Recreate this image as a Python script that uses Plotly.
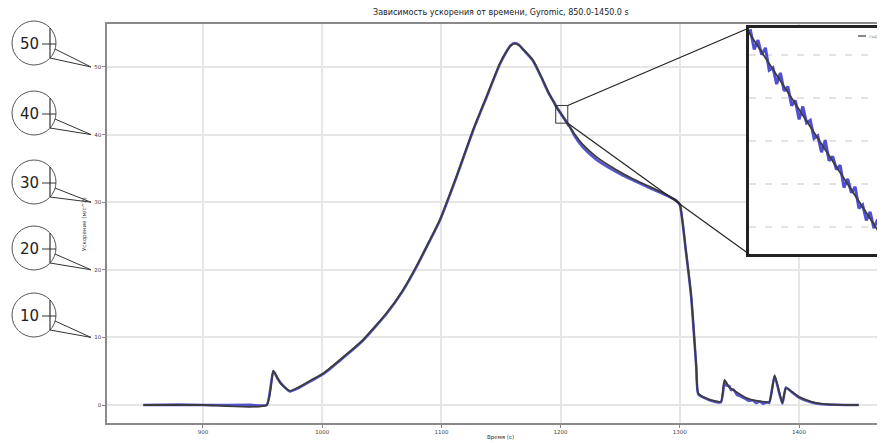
import plotly.graph_objects as go

# page renders the figure with an 8px body margin; design in reference pixels and shift
OFF = 8
W, H = 885 - OFF, 443 - OFF

title_text = "Зависимость ускорения от времени, Gyromic, 850.0-1450.0 s"
x_label = "Время (с)"
y_label = "Ускорение (м/с^2)"
legend_label = "сырые"

# smoothed acceleration (dark line)
t_smooth = [850, 900, 953.5, 959, 965, 973, 980, 990, 1001, 1015, 1034, 1054, 1067, 1079, 1090,
            1098.7, 1112.6, 1126.6, 1137.8, 1149, 1155, 1158, 1161.5, 1165, 1168, 1176.9, 1184,
            1190, 1196, 1201, 1206, 1212, 1218.7, 1230, 1246.6, 1260, 1274.7, 1290, 1297, 1300,
            1305, 1309.6, 1313.8, 1315.5, 1325, 1334.5, 1337.5, 1341.5, 1345, 1355, 1365, 1375,
            1379.5, 1386, 1389, 1400, 1410, 1418, 1430, 1450]
a_smooth = [0, 0, 0, 5.1, 3.2, 2.1, 2.6, 3.6, 4.7, 6.7, 9.6, 13.6, 16.8, 20.5, 24.3,
            27.4, 33.8, 40.7, 45.6, 50.5, 52.4, 53.1, 53.45, 53.2, 52.7, 51.0, 48.5,
            46.2, 44.23, 42.9, 41.57, 40.0, 38.5, 36.7, 34.8, 33.5, 32.3, 31.0, 30.3, 29.7,
            23.0, 16.0, 5.7, 1.7, 0.8, 0.5, 3.7, 2.6, 2.2, 1.1, 0.6, 0.5,
            4.4, 0.3, 2.5, 1.2, 0.5, 0.2, 0.05, 0]

# raw acceleration (blue, noisy)
t_raw = [850, 880, 900, 940, 953.5, 959, 963, 967, 973, 980, 990, 1001, 1015, 1034, 1054, 1067,
         1079, 1090, 1098.7, 1112.6, 1126.6, 1137.8, 1149, 1155, 1158, 1161.5, 1165, 1168,
         1176.9, 1184, 1190,
         1195.00, 1195.25, 1195.50, 1195.75, 1196.00, 1196.25, 1196.50, 1196.75, 1197.00,
         1197.25, 1197.50, 1197.75, 1198.00, 1198.25, 1198.50, 1198.75, 1199.00, 1199.25,
         1199.50, 1199.75, 1200.00, 1200.25, 1200.50, 1200.75, 1201.00, 1201.25, 1201.50,
         1201.75, 1202.00, 1202.25, 1202.50, 1202.75, 1203.00, 1203.25, 1203.50, 1203.75,
         1204.00, 1204.25, 1204.50, 1204.75, 1205.00, 1205.25, 1205.50, 1205.75, 1206.00,
         1206.25, 1206.50, 1206.75, 1207.00,
         1212, 1218.7, 1230, 1246.6, 1260, 1274.7, 1290, 1297, 1300, 1305, 1309.6, 1313.8,
         1315.5, 1325, 1334.5, 1337.5, 1339, 1341.5, 1343, 1345, 1348, 1351, 1355, 1358, 1361,
         1364, 1367, 1370, 1373, 1375, 1379.5, 1386, 1389, 1394, 1400, 1410, 1418, 1430, 1450]
a_raw = [0, 0.05, 0, 0.02, 0, 5.0, 3.8, 2.9, 2.0, 2.5, 3.5, 4.6, 6.6, 9.5, 13.5, 16.7,
         20.4, 24.2, 27.3, 33.7, 40.6, 45.5, 50.4, 52.4, 53.2, 53.55, 53.3, 52.7,
         50.9, 48.4, 46.1,
         44.64, 44.42, 44.51, 44.27, 44.28, 44.06, 44.17, 44.00, 44.08,
         43.82, 43.85, 43.66, 43.79, 43.58, 43.63, 43.41, 43.47, 43.25,
         43.40, 43.21, 43.24, 43.03, 43.06, 42.87, 43.01, 42.77, 42.82,
         42.67, 42.72, 42.46, 42.56, 42.40, 42.47, 42.22, 42.26, 42.08,
         42.18, 41.99, 42.09, 41.83, 41.88, 41.67, 41.76, 41.62, 41.66,
         41.42, 41.48, 41.30, 41.36,
         39.7, 38.1, 36.3, 34.5, 33.3, 32.1, 30.9, 30.2, 29.6, 22.9, 15.9, 5.6,
         1.6, 0.7, 0.4, 3.5, 2.9, 2.8, 2.2, 2.3, 1.5, 1.3, 0.9, 0.6, 0.7,
         0.3, 0.5, 0.2, 0.4, 0.3, 4.2, 0.2, 2.6, 1.9, 1.1, 0.4, 0.15, 0.03, 0]

x_ticks = [900, 1000, 1100, 1200, 1300, 1400]
y_ticks = [0, 10, 20, 30, 40, 50]
circle_labels = [50, 40, 30, 20, 10]
circle_cy = [43, 113, 182, 248, 315]

zoom_x = [1195.9, 1206.0]
zoom_y = [41.69, 44.31]

# ---- layout geometry (reference pixels) ----
MAIN_L, MAIN_R, MAIN_T, MAIN_B = 107, 885, 24, 423
X_RANGE = [819.5, 1472.1]
Y_RANGE = [-2.663, 56.36]
INS_L, INS_T, INS_B, INS_R_FULL = 749, 28, 254, 900
ins_x_range = [zoom_x[0], zoom_x[0] + (885 - INS_L) / (INS_R_FULL - INS_L) * (zoom_x[1] - zoom_x[0])]


def mx(t):
    return MAIN_L + (t - X_RANGE[0]) / (X_RANGE[1] - X_RANGE[0]) * (MAIN_R - MAIN_L)


def my(a):
    return MAIN_B - (a - Y_RANGE[0]) / (Y_RANGE[1] - Y_RANGE[0]) * (MAIN_B - MAIN_T)


def px(x):
    return (x - OFF) / W


def py(y):
    return 1 - (y - OFF) / H


GRAY = "#3c3c3c"
BLUE = "rgba(55,55,195,0.85)"

fig = go.Figure()
fig.add_trace(go.Scatter(x=t_raw, y=a_raw, mode="lines",
                         line=dict(color=BLUE, width=2.6, shape="spline", smoothing=0.5),
                         xaxis="x", yaxis="y", hoverinfo="skip"))
fig.add_trace(go.Scatter(x=t_smooth, y=a_smooth, mode="lines",
                         line=dict(color=GRAY, width=1.8, shape="spline", smoothing=0.5),
                         xaxis="x", yaxis="y", hoverinfo="skip"))
fig.add_trace(go.Scatter(x=t_raw, y=a_raw, mode="lines", line=dict(color="rgba(60,60,210,0.9)", width=3),
                         xaxis="x2", yaxis="y2", hoverinfo="skip"))
fig.add_trace(go.Scatter(x=t_smooth, y=a_smooth, mode="lines", line=dict(color=GRAY, width=1.8),
                         xaxis="x2", yaxis="y2", hoverinfo="skip"))

shapes = []
shapes.append(dict(type="rect", xref="x2 domain", yref="y2 domain", x0=0, x1=1, y0=0, y1=1,
                   fillcolor="white", line=dict(width=0), layer="below"))
shapes.append(dict(type="rect", xref="x", yref="y", x0=zoom_x[0], x1=zoom_x[1],
                   y0=zoom_y[0], y1=zoom_y[1], line=dict(color="#333", width=1)))
for ty, iy in [(zoom_y[1], INS_T), (zoom_y[0], INS_B)]:
    shapes.append(dict(type="line", xref="paper", yref="paper",
                       x0=px(mx(zoom_x[1])), y0=py(my(ty)), x1=px(INS_L), y1=py(iy),
                       line=dict(color="#222", width=1.2)))

annotations = []
cx, r = 34, 22
for lab, cy in zip(circle_labels, circle_cy):
    shapes.append(dict(type="circle", xref="paper", yref="paper",
                       x0=px(cx - r), x1=px(cx + r), y0=py(cy + r), y1=py(cy - r),
                       line=dict(color="#555", width=1)))
    shapes.append(dict(type="line", xref="paper", yref="paper",
                       x0=px(cx + 16), x1=px(cx + 16), y0=py(cy - 15), y1=py(cy + 15),
                       line=dict(color="#333", width=1.2)))
    shapes.append(dict(type="line", xref="paper", yref="paper",
                       x0=px(cx + 8), x1=px(cx + 22), y0=py(cy + 1), y1=py(cy + 1),
                       line=dict(color="#333", width=1)))
    tip = (91, my(lab))
    for sx, sy in [(cx + 21, cy + 6), (cx + 16, cy + 15)]:
        shapes.append(dict(type="line", xref="paper", yref="paper",
                           x0=px(sx), y0=py(sy), x1=px(tip[0]), y1=py(tip[1]),
                           line=dict(color="#333", width=1)))
    annotations.append(dict(text=str(lab), xref="paper", yref="paper", x=px(cx - 5), y=py(cy + 1),
                            showarrow=False, xanchor="center", yanchor="middle",
                            font=dict(size=15, color="#222", family="DejaVu Sans")))

# inset legend
shapes.append(dict(type="line", xref="paper", yref="paper", x0=px(858), x1=px(866),
                   y0=py(36), y1=py(36), line=dict(color=GRAY, width=1.2)))
annotations.append(dict(text=legend_label, xref="paper", yref="paper", x=px(867), y=py(36),
                        showarrow=False, xanchor="left", yanchor="middle",
                        font=dict(size=4.5, color="#888", family="DejaVu Sans")))

annotations.append(dict(text=title_text, xref="paper", yref="paper", x=px(501), y=py(13),
                        showarrow=False, xanchor="center", yanchor="middle",
                        font=dict(size=8, color="#222", family="DejaVu Sans")))
annotations.append(dict(text=x_label, xref="paper", yref="paper", x=px(500), y=py(437),
                        showarrow=False, xanchor="center", yanchor="middle",
                        font=dict(size=5.5, color="#333", family="DejaVu Sans")))
annotations.append(dict(text=y_label, xref="paper", yref="paper", x=px(84), y=py(224),
                        showarrow=False, xanchor="center", yanchor="middle", textangle=-90,
                        font=dict(size=5.5, color="#333", family="DejaVu Sans")))

fig.update_layout(
    width=W, height=H, margin=dict(l=0, r=0, t=0, b=0),
    paper_bgcolor="white", plot_bgcolor="white", showlegend=False,
    font=dict(family="DejaVu Sans"),
    xaxis=dict(domain=[px(MAIN_L), 1], range=X_RANGE, tickvals=x_ticks, automargin=False,
               showgrid=True, gridcolor="#e6e6e6", gridwidth=2, zeroline=False,
               showline=True, linecolor="#8a8a8a", linewidth=1.5, mirror=True,
               ticks="outside", ticklen=3, tickcolor="#8a8a8a",
               tickfont=dict(size=5.5, color="#444")),
    yaxis=dict(domain=[py(MAIN_B), py(MAIN_T)], range=Y_RANGE, tickvals=y_ticks, automargin=False,
               showgrid=True, gridcolor="#e6e6e6", gridwidth=2, zeroline=False,
               showline=True, linecolor="#8a8a8a", linewidth=1.5,
               ticks="outside", ticklen=3, tickcolor="#8a8a8a",
               tickfont=dict(size=5.5, color="#444")),
    xaxis2=dict(domain=[px(INS_L), 1], range=ins_x_range, anchor="y2", automargin=False,
                showgrid=False, zeroline=False, showticklabels=False,
                showline=True, linecolor="#222", linewidth=2.5, mirror=True),
    yaxis2=dict(domain=[py(INS_B), py(INS_T)], range=zoom_y, anchor="x2", dtick=0.5, automargin=False,
                showgrid=True, gridcolor="#e2e2e2", gridwidth=2, griddash="7px,9px",
                zeroline=False, showticklabels=False,
                showline=True, linecolor="#222", linewidth=2.5),
    shapes=shapes, annotations=annotations,
)

fig.write_html("out.html")
